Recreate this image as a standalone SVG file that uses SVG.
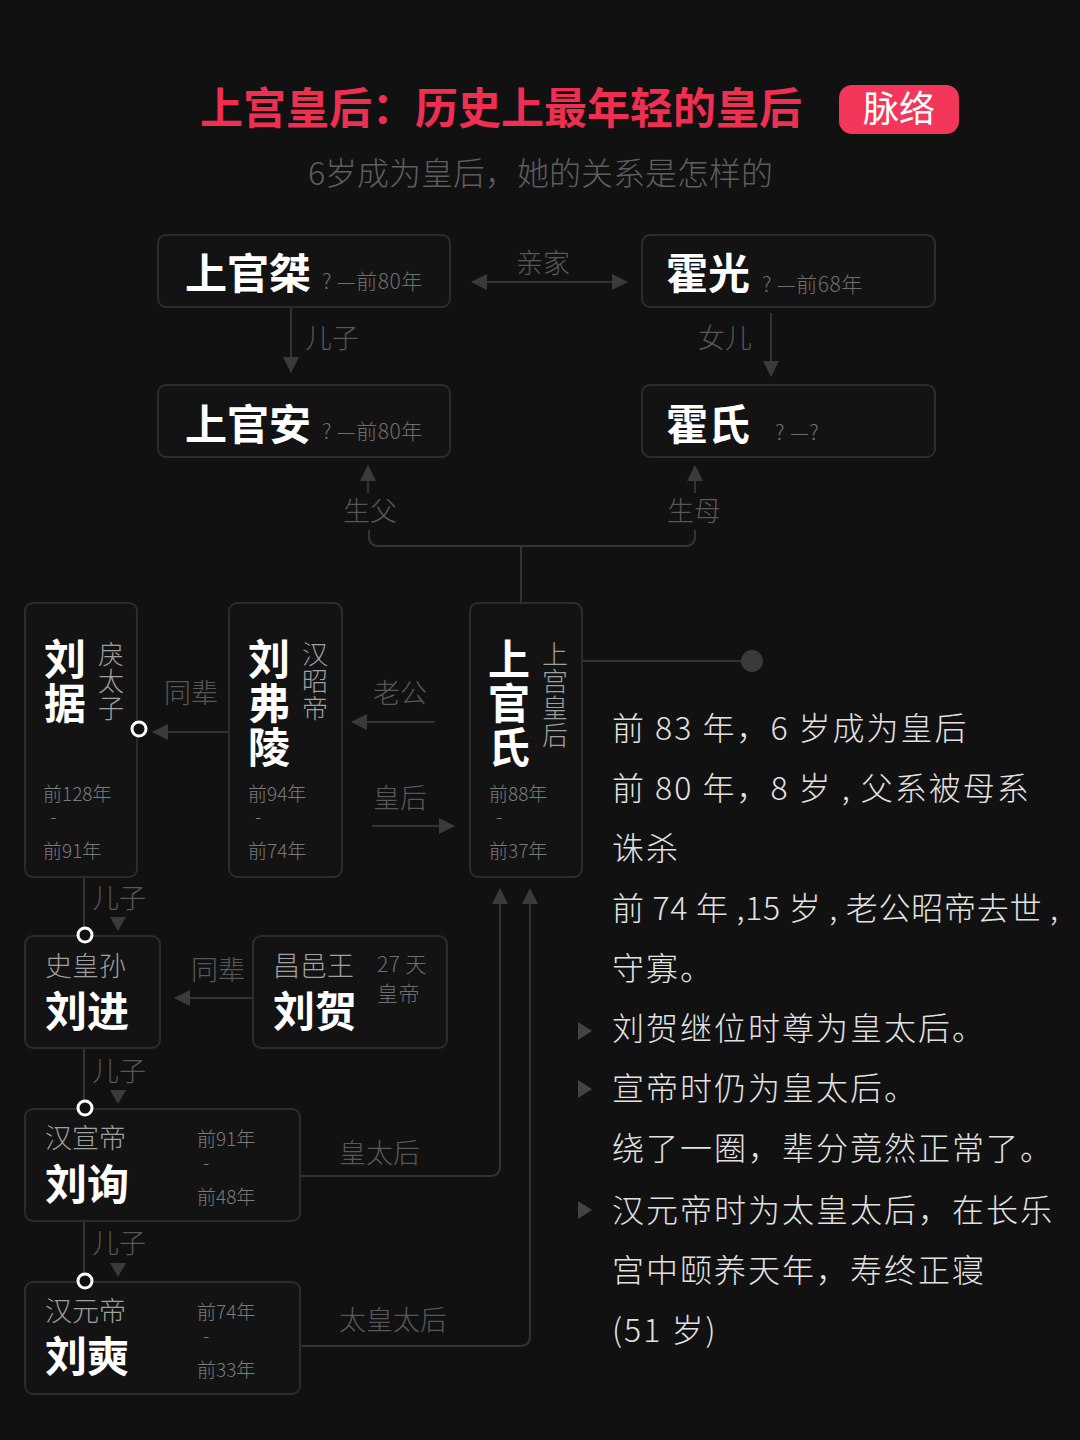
<svg xmlns="http://www.w3.org/2000/svg" width="1080" height="1440" viewBox="0 0 1080 1440">
<defs>
<style>
text{font-family:"Noto Sans CJK SC","Noto Sans",sans-serif;}
.title{font-size:43px;font-weight:700;fill:#ee2f52;}
.sub{font-size:32px;font-weight:300;fill:#5e5e5e;}
.box{fill:#131313;stroke:#2c2c2c;stroke-width:2;}
.name{font-size:42px;font-weight:700;fill:#ffffff;}
.yr{font-size:21px;font-weight:300;fill:#6e6e6e;letter-spacing:0.5px;}
.date{font-size:19px;font-weight:300;fill:#7a7a7a;}
.role{font-size:27px;font-weight:300;fill:#a0a0a0;}
.vrole{font-size:26px;font-weight:300;fill:#a0a0a0;}
.lbl{font-size:27px;font-weight:300;fill:#585858;}
.ln{fill:none;stroke:#333333;stroke-width:2;}
.ah{fill:#3a3a3a;}
.dot{fill:#111111;stroke:#ffffff;stroke-width:3;}
.body{font-size:32px;font-weight:300;fill:#e2e2e2;letter-spacing:2px;}
.bul{fill:#444444;}
</style>
<marker id="arr" markerUnits="userSpaceOnUse" markerWidth="16" markerHeight="16" refX="15" refY="8" orient="auto-start-reverse">
<path d="M0,0 L16,8 L0,16 z" fill="#3a3a3a"/>
</marker>
</defs>
<rect x="0" y="0" width="1080" height="1440" fill="#111111"/>

<g id="header">
<text class="title" x="200" y="124">上宫皇后：历史上最年轻的皇后</text>
<rect x="839" y="85" width="120" height="49" rx="13" fill="#f4365b"/>
<text x="899" y="122" text-anchor="middle" font-size="36" fill="#ffffff">脉络</text>
<text class="sub" x="308" y="185">6岁成为皇后，她的关系是怎样的</text>
</g>

<g id="node-shangguanjie">
<rect class="box" x="158" y="235" width="292" height="72" rx="8"/>
<text class="name" x="185" y="289">上官桀</text>
<text class="yr" x="322" y="289">? —前80年</text>
</g>
<g id="node-huoguang">
<rect class="box" x="642" y="235" width="293" height="72" rx="8"/>
<text class="name" x="666" y="289">霍光</text>
<text class="yr" x="762" y="292">? —前68年</text>
</g>
<g id="node-shangguanan">
<rect class="box" x="158" y="385" width="292" height="72" rx="8"/>
<text class="name" x="185" y="440">上官安</text>
<text class="yr" x="322" y="439">? —前80年</text>
</g>
<g id="node-huoshi">
<rect class="box" x="642" y="385" width="293" height="72" rx="8"/>
<text class="name" x="666" y="440">霍氏</text>
<text class="yr" x="775" y="440">? —?</text>
</g>

<g id="node-liuju">
<rect class="box" x="25" y="603" width="112" height="274" rx="8"/>
<text class="name" x="44" y="675">刘<tspan x="44" y="719">据</tspan></text>
<text class="vrole" x="98" y="664">戾<tspan x="98" y="691">太</tspan><tspan x="98" y="718">子</tspan></text>
<text class="date" x="43" y="801">前128年</text>
<text class="date" x="50" y="824">-</text>
<text class="date" x="43" y="858">前91年</text>
</g>
<g id="node-liufuling">
<rect class="box" x="229" y="603" width="113" height="274" rx="8"/>
<text class="name" x="248" y="675">刘<tspan x="248" y="719">弗</tspan><tspan x="248" y="763">陵</tspan></text>
<text class="vrole" x="302" y="664">汉<tspan x="302" y="691">昭</tspan><tspan x="302" y="718">帝</tspan></text>
<text class="date" x="248" y="801">前94年</text>
<text class="date" x="255" y="824">-</text>
<text class="date" x="248" y="858">前74年</text>
</g>
<g id="node-shangguanshi">
<rect class="box" x="470" y="603" width="112" height="274" rx="8"/>
<text class="name" x="488" y="675">上<tspan x="488" y="719">官</tspan><tspan x="488" y="763">氏</tspan></text>
<text class="vrole" x="542" y="664">上<tspan x="542" y="691">宫</tspan><tspan x="542" y="718">皇</tspan><tspan x="542" y="745">后</tspan></text>
<text class="date" x="489" y="801">前88年</text>
<text class="date" x="496" y="824">-</text>
<text class="date" x="489" y="858">前37年</text>
</g>

<g id="node-liujin">
<rect class="box" x="25" y="936" width="135" height="112" rx="8"/>
<text class="role" x="45" y="976">史皇孙</text>
<text class="name" x="45" y="1027">刘进</text>
</g>
<g id="node-liuhe">
<rect class="box" x="253" y="936" width="194" height="112" rx="8"/>
<text class="role" x="273" y="976">昌邑王</text>
<text class="name" x="273" y="1027">刘贺</text>
<text class="yr" x="377" y="972">27 天</text>
<text class="yr" x="377" y="1001">皇帝</text>
</g>
<g id="node-liuxun">
<rect class="box" x="25" y="1109" width="275" height="112" rx="8"/>
<text class="role" x="45" y="1148">汉宣帝</text>
<text class="name" x="45" y="1200">刘询</text>
<text class="date" x="197" y="1146">前91年</text>
<text class="date" x="203" y="1170">-</text>
<text class="date" x="197" y="1204">前48年</text>
</g>
<g id="node-liushi">
<rect class="box" x="25" y="1282" width="275" height="112" rx="8"/>
<text class="role" x="45" y="1321">汉元帝</text>
<text class="name" x="45" y="1372">刘奭</text>
<text class="date" x="197" y="1319">前74年</text>
<text class="date" x="203" y="1343">-</text>
<text class="date" x="197" y="1377">前33年</text>
</g>

<g id="connectors">
<line class="ln" x1="472" y1="282" x2="627" y2="282" marker-start="url(#arr)" marker-end="url(#arr)"/>
<text class="lbl" x="516" y="273">亲家</text>
<line class="ln" x1="291" y1="308" x2="291" y2="372" marker-end="url(#arr)"/>
<text class="lbl" x="305" y="348">儿子</text>
<line class="ln" x1="771" y1="313" x2="771" y2="376" marker-end="url(#arr)"/>
<text class="lbl" x="698" y="348">女儿</text>
<line class="ln" x1="368" y1="493" x2="368" y2="466" marker-end="url(#arr)"/>
<text class="lbl" x="343" y="521">生父</text>
<line class="ln" x1="695" y1="493" x2="695" y2="466" marker-end="url(#arr)"/>
<text class="lbl" x="667" y="521">生母</text>
<path class="ln" d="M369,530 L369,536 Q369,546 379,546 L685,546 Q695,546 695,536 L695,530"/>
<line class="ln" x1="521" y1="546" x2="521" y2="603"/>

<line class="ln" x1="583" y1="661" x2="752" y2="661"/>
<circle cx="752" cy="661" r="11" fill="#3a3a3a"/>

<line class="ln" x1="228" y1="732" x2="153" y2="732" marker-end="url(#arr)"/>
<text class="lbl" x="164" y="703">同辈</text>
<circle class="dot" cx="139" cy="729" r="7"/>
<line class="ln" x1="435" y1="722" x2="352" y2="722" marker-end="url(#arr)"/>
<text class="lbl" x="373" y="703">老公</text>
<line class="ln" x1="372" y1="826" x2="454" y2="826" marker-end="url(#arr)"/>
<text class="lbl" x="373" y="808">皇后</text>

<line class="ln" x1="84" y1="878" x2="84" y2="929"/>
<polygon class="ah" points="110,917 126,917 118,931"/>
<text class="lbl" x="92" y="908">儿子</text>
<circle class="dot" cx="85" cy="935" r="7"/>

<line class="ln" x1="252" y1="998" x2="175" y2="998" marker-end="url(#arr)"/>
<text class="lbl" x="191" y="980">同辈</text>

<line class="ln" x1="84" y1="1049" x2="84" y2="1102"/>
<polygon class="ah" points="110,1090 126,1090 118,1104"/>
<text class="lbl" x="92" y="1081">儿子</text>
<circle class="dot" cx="85" cy="1108" r="7"/>

<line class="ln" x1="84" y1="1222" x2="84" y2="1275"/>
<polygon class="ah" points="110,1263 126,1263 118,1277"/>
<text class="lbl" x="92" y="1253">儿子</text>
<circle class="dot" cx="85" cy="1281" r="7"/>

<path class="ln" d="M301,1176 L490,1176 Q500,1176 500,1166 L500,889" marker-end="url(#arr)"/>
<text class="lbl" x="339" y="1163">皇太后</text>
<path class="ln" d="M301,1346 L520,1346 Q530,1346 530,1336 L530,889" marker-end="url(#arr)"/>
<text class="lbl" x="339" y="1330">太皇太后</text>
</g>

<g id="notes">
<text class="body" x="612" y="740">前 83 年，6 岁成为皇后</text>
<text class="body" x="612" y="800">前 80 年，8 岁 , 父系被母系</text>
<text class="body" x="612" y="860">诛杀</text>
<text class="body" x="612" y="920" style="letter-spacing:0" textLength="446" lengthAdjust="spacing">前 74 年 ,15 岁 , 老公昭帝去世 ,</text>
<text class="body" x="612" y="980">守寡。</text>
<polygon class="bul" points="578,1022 592,1031 578,1040"/>
<text class="body" x="612" y="1040">刘贺继位时尊为皇太后。</text>
<polygon class="bul" points="578,1080 592,1089 578,1098"/>
<text class="body" x="612" y="1100">宣帝时仍为皇太后。</text>
<text class="body" x="612" y="1160">绕了一圈，辈分竟然正常了。</text>
<polygon class="bul" points="578,1201 592,1210 578,1219"/>
<text class="body" x="612" y="1222">汉元帝时为太皇太后，在长乐</text>
<text class="body" x="612" y="1282">宫中颐养天年，寿终正寝</text>
<text class="body" x="612" y="1342">(51 岁)</text>
</g>
</svg>
